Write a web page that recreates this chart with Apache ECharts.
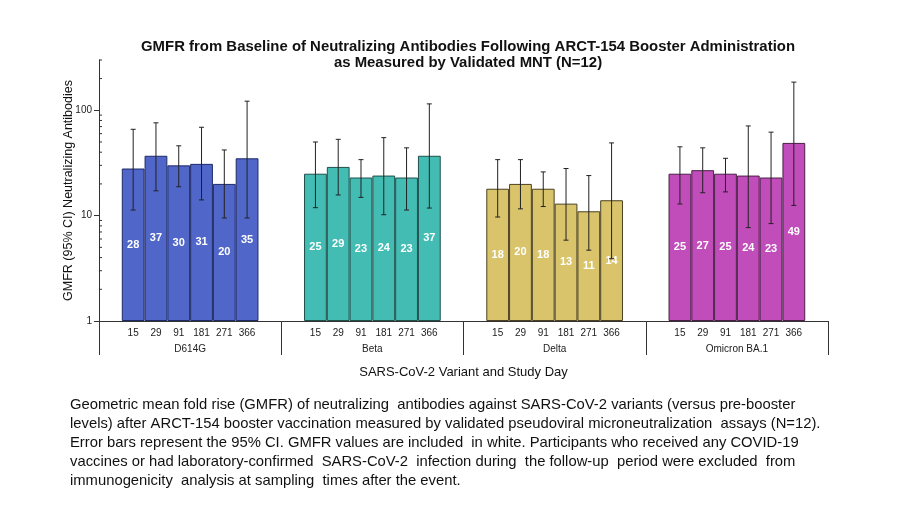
<!DOCTYPE html>
<html><head><meta charset="utf-8">
<script src="https://cdn.jsdelivr.net/npm/echarts@6/dist/echarts.min.js"></script>
<style>html,body{margin:0;padding:0;background:#fff}#c{width:900px;height:506px}</style>
</head><body><div id="c"></div>
<script>
// ---- data ----
const variants = ['D614G', 'Beta', 'Delta', 'Omicron BA.1'];
const days = ['15', '29', '91', '181', '271', '366'];
const gmfrD614G   = [28, 37, 30, 31, 20, 35];
const gmfrBeta    = [25, 29, 23, 24, 23, 37];
const gmfrDelta   = [18, 20, 18, 13, 11, 14];
const gmfrOmicron = [25, 27, 25, 24, 23, 49];
const lowD614G   = [11.3, 17.2, 18.8, 14.1, 9.5, 9.5];
const highD614G  = [66, 76, 46, 69, 42, 122];
const lowBeta    = [11.9, 15.7, 14.9, 10.2, 11.3, 11.8];
const highBeta   = [50, 53, 34, 55, 44, 115];
const lowDelta   = [9.7, 11.6, 12.2, 5.85, 4.7, 3.9];
const highDelta  = [34, 34, 26, 28, 24, 49];
const lowOmicron = [12.9, 16.5, 16.8, 7.7, 8.4, 12.5];
const highOmicron= [45, 44, 35, 71, 62, 185];
const yTickValues = [1, 10, 100];
const titleLines = [
  'GMFR from Baseline of Neutralizing Antibodies Following ARCT-154 Booster Administration',
  'as Measured by Validated MNT (N=12)'
];
const captionLines = [
  'Geometric mean fold rise (GMFR) of neutralizing  antibodies against SARS-CoV-2 variants (versus pre-booster',
  'levels) after ARCT-154 booster vaccination measured by validated pseudoviral microneutralization  assays (N=12).',
  'Error bars represent the 95% CI. GMFR values are included  in white. Participants who received any COVID-19',
  'vaccines or had laboratory-confirmed  SARS-CoV-2  infection during  the follow-up  period were excluded  from',
  'immunogenicity  analysis at sampling  times after the event.'
];

const gmfr = [gmfrD614G, gmfrBeta, gmfrDelta, gmfrOmicron];
const lows = [lowD614G, lowBeta, lowDelta, lowOmicron];
const highs = [highD614G, highBeta, highDelta, highOmicron];
const colors = ['#5066C9', '#43BDB4', '#D9C46C', '#C04DB9'];
const borderColors = ['#1E2A66', '#1F4F4B', '#4A4020', '#4A1F47'];

// ---- build slots: each variant gets 8 slots, bars in middle 6 ----
const slotsPer = days.length + 2;
const categories = [];
variants.forEach(() => { categories.push(''); days.forEach(d => categories.push(d)); categories.push(''); });

const series = [];
const errData = [];
variants.forEach((v, gi) => {
  const data = categories.map(() => '-');
  gmfr[gi].forEach((val, di) => {
    const idx = gi * slotsPer + 1 + di;
    data[idx] = val;
    errData.push([idx, lows[gi][di], highs[gi][di]]);
  });
  series.push({
    type: 'bar', name: v, data: data,
    barGap: '-100%', barCategoryGap: '0%',
    itemStyle: { color: colors[gi], borderColor: borderColors[gi], borderWidth: 1 },
    label: { show: true, position: 'inside', color: '#fff', fontWeight: 'bold', fontSize: 11,
             fontFamily: 'Liberation Sans, Arial, sans-serif' },
    silent: true
  });
});

series.push({
  type: 'custom', name: 'err', data: errData, z: 10,
  renderItem: function (params, api) {
    const x = api.value(0);
    const lo = api.coord([x, api.value(1)]);
    const hi = api.coord([x, api.value(2)]);
    const cap = 2.5;
    const st = { stroke: '#222', lineWidth: 1 };
    return { type: 'group', children: [
      { type: 'line', shape: { x1: lo[0], y1: lo[1], x2: hi[0], y2: hi[1] }, style: st },
      { type: 'line', shape: { x1: lo[0] - cap, y1: lo[1], x2: lo[0] + cap, y2: lo[1] }, style: st },
      { type: 'line', shape: { x1: hi[0] - cap, y1: hi[1], x2: hi[0] + cap, y2: hi[1] }, style: st }
    ]};
  }
});

// minor ticks on log axis (2..9 per decade)
const minorVals = [];
[1, 10, 100].forEach(b => { for (let k = 2; k <= 9; k++) { if (b * k <= 300) minorVals.push([0, b * k]); } });
series.push({
  type: 'custom', name: 'minor', data: minorVals, z: 10, silent: true,
  renderItem: function (params, api) {
    const p = api.coord([0, api.value(1)]);
    const w = api.size([1, 0])[0];
    const x0 = p[0] - w / 2;
    return { type: 'line', shape: { x1: x0, y1: p[1], x2: x0 + 3, y2: p[1] }, style: { stroke: '#333', lineWidth: 1 } };
  }
});

const font = 'Liberation Sans, Arial, sans-serif';
const titleFont = 'bold 15px Liberation Sans, Arial, sans-serif';
const mc = document.createElement('canvas').getContext('2d');
mc.font = titleFont;
const titleScale = 654 / mc.measureText(titleLines[0]).width;

const graphics = captionLines.map((t, i) => ({
  type: 'text', left: 70, top: 397 + i * 19,
  style: { text: t, fill: '#111', font: '14.8px ' + font }
}));
titleLines.forEach((t, i) => {
  graphics.push({
    type: 'text', x: 468, y: 47 + i * 16, scaleX: titleScale,
    style: { text: t, fill: '#111', font: titleFont, textAlign: 'center', textVerticalAlign: 'middle' }
  });
});

const chart = echarts.init(document.getElementById('c'), null, { renderer: 'canvas' });
chart.setOption({
  animation: false,
  backgroundColor: '#fff',
  grid: { left: 99, right: 72, top: 60, bottom: 185 },
  xAxis: [
    { type: 'category', data: categories, position: 'bottom',
      axisLine: { show: true, lineStyle: { color: '#333', width: 1 } },
      axisTick: { show: false },
      axisLabel: { interval: 0, margin: 7, fontSize: 10, color: '#222', fontFamily: font },
      name: 'SARS-CoV-2 Variant and Study Day', nameLocation: 'middle', nameGap: 45,
      nameTextStyle: { fontSize: 13, color: '#111', fontFamily: font }
    },
    { type: 'category', data: variants, position: 'bottom',
      axisLine: { show: false },
      axisTick: { show: true, length: 34, lineStyle: { color: '#333', width: 1 } },
      axisLabel: { interval: 0, margin: 23, fontSize: 10, color: '#222', fontFamily: font }
    }
  ],
  yAxis: {
    type: 'log', logBase: 10, min: 1, max: 300,
    axisLine: { show: true, lineStyle: { color: '#333', width: 1 } },
    axisTick: { show: true, length: 5, lineStyle: { color: '#333' } },
    axisLabel: { fontSize: 10, color: '#222', margin: 7, showMaxLabel: false, fontFamily: font,
      formatter: v => (yTickValues.indexOf(Math.round(v)) >= 0 ? String(Math.round(v)) : '') },
    splitLine: { show: false },
    name: 'GMFR (95% CI) Neutralizing Antibodies', nameLocation: 'middle', nameGap: 24, nameRotate: 90,
    nameMoveOverlap: false,
    nameTextStyle: { fontSize: 12.5, color: '#111', fontFamily: font }
  },
  series: series,
  graphic: graphics
});
</script></body></html>
